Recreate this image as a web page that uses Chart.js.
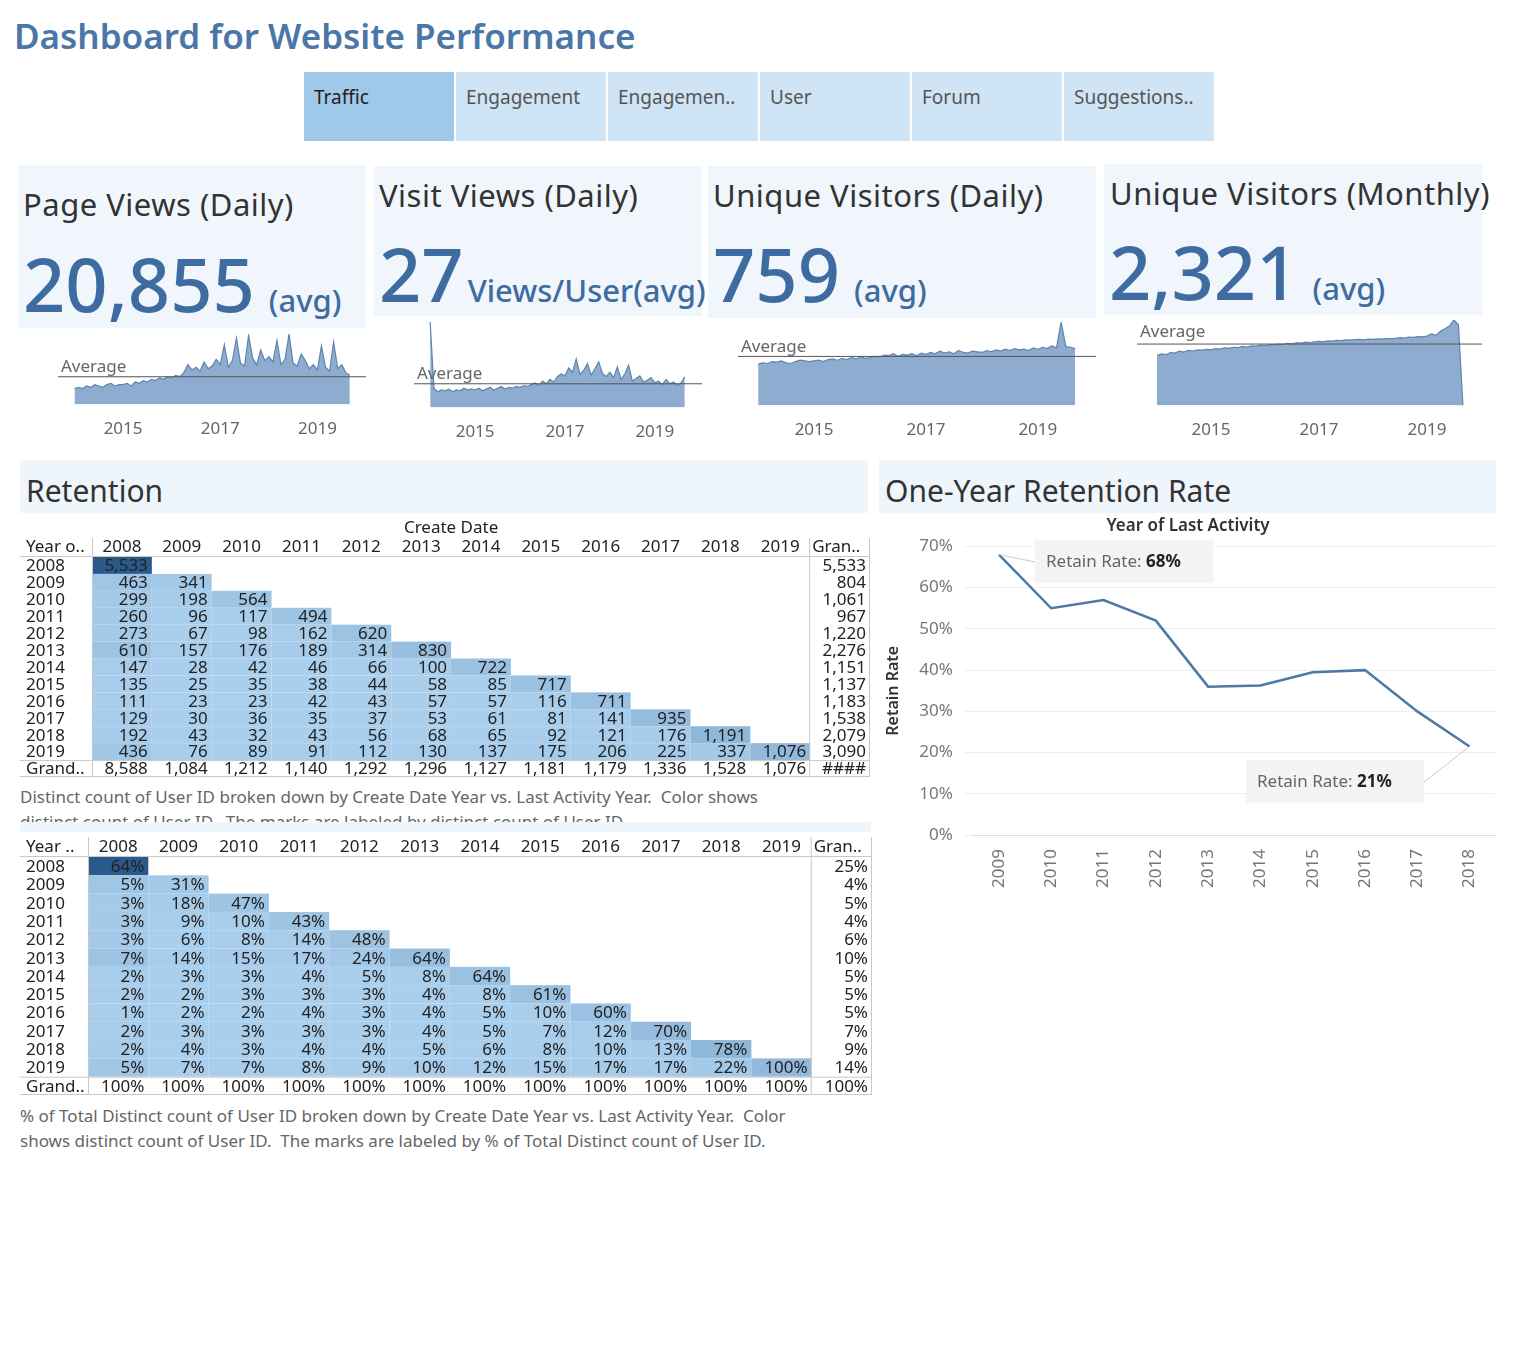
<!DOCTYPE html>
<html><head><meta charset="utf-8">
<script src="https://cdn.jsdelivr.net/npm/chart.js@4.4.1/dist/chart.umd.min.js"></script>
<style>
body{margin:0;width:1516px;height:1364px;background:#fff;font-family:"Noto Sans",sans-serif;position:relative;overflow:hidden}
.a{position:absolute}
.tab{position:absolute;top:72px;height:69px;width:150px;background:#cfe4f4;color:#555;font-size:19px;box-sizing:border-box;padding:12px 10px}
.kpi{position:absolute;background:#f0f6fb;color:#333}
.kt{position:absolute;font-size:31px;white-space:nowrap;letter-spacing:0.5px}
.kn{position:absolute;font-size:74px;color:#3e6ca0;white-space:nowrap;font-weight:500}
.ku{font-size:31px;margin-left:14px}
.hdr{position:absolute;background:#eef5fb;font-size:30px;color:#333;padding:10px 6px;box-sizing:border-box}
.cap{position:absolute;font-size:17px;color:#666;line-height:25px}
</style></head><body>
<div class="a" style="left:14px;top:12px;font-size:35px;font-weight:600;color:#4a76a8">Dashboard for Website Performance</div>
<div class="tab" style="left:304px;background:#a0c8e8;color:#222">Traffic</div>
<div class="tab" style="left:456px">Engagement</div>
<div class="tab" style="left:608px">Engagemen..</div>
<div class="tab" style="left:760px">User</div>
<div class="tab" style="left:912px">Forum</div>
<div class="tab" style="left:1064px">Suggestions..</div>

<div class="kpi" style="left:18px;top:165px;width:348px;height:163px"><div class="kt" style="left:5px;top:18px">Page Views (Daily)</div><div class="kn" style="left:5px;top:68px">20,855<span class="ku">(avg)</span></div></div>
<div class="kpi" style="left:374px;top:166px;width:328px;height:150px"><div class="kt" style="left:5px;top:8px">Visit Views (Daily)</div><div class="kn" style="left:5px;top:57px">27<span class="ku" style="margin-left:4px">Views/User(avg)</span></div></div>
<div class="kpi" style="left:708px;top:166px;width:388px;height:152px"><div class="kt" style="left:5px;top:8px">Unique Visitors (Daily)</div><div class="kn" style="left:5px;top:57px">759<span class="ku">(avg)</span></div></div>
<div class="kpi" style="left:1104px;top:164px;width:378px;height:151px"><div class="kt" style="left:6px;top:8px">Unique Visitors (Monthly)</div><div class="kn" style="left:5px;top:57px">2,321<span class="ku">(avg)</span></div></div>

<div class="a" style="left:58px;top:330px;width:308px;height:115px"><canvas id="s1"></canvas></div>
<div class="a" style="left:414px;top:318px;width:288px;height:130px"><canvas id="s2"></canvas></div>
<div class="a" style="left:738px;top:318px;width:358px;height:128px"><canvas id="s3"></canvas></div>
<div class="a" style="left:1137px;top:316px;width:345px;height:130px"><canvas id="s4"></canvas></div>

<div class="hdr" style="left:20px;top:460px;width:848px;height:53px">Retention</div>
<div class="hdr" style="left:879px;top:460px;width:617px;height:53px">One-Year Retention Rate</div>

<div class="a" style="left:20px;top:517px;width:850px;height:260px"><canvas id="t1"></canvas></div>
<div class="cap" style="left:20px;top:784px">Distinct count of User ID broken down by Create Date Year vs. Last Activity Year.&nbsp; Color shows<br>distinct count of User ID.&nbsp; The marks are labeled by distinct count of User ID.</div>
<div class="a" style="left:20px;top:822px;width:851px;height:10px;background:#eef5fb"></div>
<div class="a" style="left:20px;top:837px;width:852px;height:258px"><canvas id="t2"></canvas></div>
<div class="cap" style="left:20px;top:1103px">% of Total Distinct count of User ID broken down by Create Date Year vs. Last Activity Year.&nbsp; Color<br>shows distinct count of User ID.&nbsp; The marks are labeled by % of Total Distinct count of User ID.</div>

<div class="a" style="left:880px;top:514px;width:616px;height:380px"><canvas id="ln"></canvas></div>

<script>
const months = [];
for (let y = 2014; y <= 2019; y++) for (let m = 1; m <= 12; m++) if (!(y === 2019 && m > 9)) months.push(y + '-' + String(m).padStart(2, '0'));
const pageViews = [12,13,12,14,13,15,14,13,15,16,14,15, 15,16,14,17,16,18,17,19,18,20,19,21, 20,22,21,24,30,26,28,25,32,27,29,34, 30,45,28,33,50,31,29,52,35,30,41,33, 36,32,48,30,34,53,31,29,38,33,27,30, 26,44,28,25,47,27,30,24,22];
const visitViews = [97,22,18,20,19,21,18,20,19,22,20,21, 20,22,19,21,23,20,22,24,21,23,22,24, 23,25,24,26,28,25,30,27,32,29,35,38, 36,45,40,55,38,42,50,37,44,52,39,35, 40,34,46,32,38,48,30,33,36,29,31,34, 28,30,26,32,27,29,25,28,35];
const uniqDaily = [640,660,650,680,670,690,660,650,680,700,690,680, 690,700,680,710,720,700,730,710,740,720,750,730, 740,760,750,780,770,800,760,790,780,800,770,810, 790,820,800,840,810,830,800,850,820,810,840,830, 820,850,830,860,840,870,850,880,860,870,850,890, 870,900,880,920,890,1290,910,900,880];
const uniqMonthly = [1900,1950,1920,2000,1980,2050,2020,2080,2060,2100,2090,2120, 2100,2150,2130,2180,2160,2200,2190,2230,2210,2250,2240,2280, 2260,2300,2290,2320,2310,2350,2330,2370,2360,2390,2380,2400, 2420,2410,2440,2430,2460,2450,2480,2470,2490,2500,2480,2510, 2500,2520,2510,2530,2520,2540,2560,2550,2580,2570,2600,2590, 2620,2700,2650,2800,2900,3000,3228,3050,0];
const sparkTicks = [2015, 2017, 2019];
const avgs = [20.9, 27, 759, 2321];

const yearsCreate = ['2008','2009','2010','2011','2012','2013','2014','2015','2016','2017','2018','2019'];
const yearsLast = ['2008','2009','2010','2011','2012','2013','2014','2015','2016','2017','2018','2019'];
const counts = [
[5533],[463,341],[299,198,564],[260,96,117,494],[273,67,98,162,620],[610,157,176,189,314,830],
[147,28,42,46,66,100,722],[135,25,35,38,44,58,85,717],[111,23,23,42,43,57,57,116,711],
[129,30,36,35,37,53,61,81,141,935],[192,43,32,43,56,68,65,92,121,176,1191],
[436,76,89,91,112,130,137,175,206,225,337,1076]];
const rowTotals = ['5,533','804','1,061','967','1,220','2,276','1,151','1,137','1,183','1,538','2,079','3,090'];
const colTotals = ['8,588','1,084','1,212','1,140','1,292','1,296','1,127','1,181','1,179','1,336','1,528','1,076','####'];
const pcts = [
[64],[5,31],[3,18,47],[3,9,10,43],[3,6,8,14,48],[7,14,15,17,24,64],[2,3,3,4,5,8,64],[2,2,3,3,3,4,8,61],
[1,2,2,4,3,4,5,10,60],[2,3,3,3,3,4,5,7,12,70],[2,4,3,4,4,5,6,8,10,13,78],[5,7,7,8,9,10,12,15,17,17,22,100]];
const pctRowTotals = [25,4,5,4,6,10,5,5,5,7,9,14];
const pctColTotals = [100,100,100,100,100,100,100,100,100,100,100,100,100];

const retYears = ['2009','2010','2011','2012','2013','2014','2015','2016','2017','2018'];
const retRate = [68,55,57,52,36,36.3,39.5,40,30,21.5];

function toYear(s){const [y,m]=s.split('-').map(Number);return y+(m-1)/12;}

function spark(id, vals, avg, xmin, xmax, ymax, labelTop){
  const avgPlugin={id:'avg',afterDatasetsDraw(c){const {ctx,chartArea:a,scales:{y}}=c;const py=y.getPixelForValue(avg);
    ctx.save();ctx.strokeStyle='#555';ctx.lineWidth=1;ctx.beginPath();ctx.moveTo(a.left,py);ctx.lineTo(a.right,py);ctx.stroke();
    ctx.fillStyle='#666';ctx.font='17px "Noto Sans"';ctx.textBaseline='bottom';ctx.fillText('Average',a.left+3,labelTop?py-3:py-1);ctx.restore();}};
  new Chart(document.getElementById(id),{type:'line',
    data:{datasets:[{data:months.map((m,i)=>({x:toYear(m),y:vals[i]})),fill:'origin',backgroundColor:'#8eaccf',borderColor:'#5f84b0',borderWidth:1.2,pointRadius:0,tension:0}]},
    options:{responsive:true,maintainAspectRatio:false,animation:false,plugins:{legend:{display:false},tooltip:{enabled:false}},
      layout:{padding:{left:0,right:0,top:4}},
      scales:{x:{type:'linear',min:xmin,max:xmax,grid:{display:false},border:{display:false},
        afterBuildTicks(s){s.ticks=sparkTicks.map(v=>({value:v}));},
        ticks:{color:'#666',font:{size:17,family:'Noto Sans'},callback:v=>String(v),maxRotation:0,padding:6}},
        y:{display:false,min:0,max:ymax}}},
    plugins:[avgPlugin]});
}
spark('s1',pageViews,avgs[0],2013.66,2020.0,53,false);
spark('s2',visitViews,avgs[1],2013.64,2020.05,97,false);
spark('s3',uniqDaily,avgs[2],2013.64,2020.04,1290,false);
spark('s4',uniqMonthly,avgs[3],2013.63,2020.02,3228,true);

function mix(a,b,t){const p=h=>[1,3,5].map(i=>parseInt(h.substr(i,2),16));const A=p(a),B=p(b);
  return 'rgb('+A.map((v,i)=>Math.round(v+(B[i]-v)*t)).join(',')+')';}
function cellColor(c){return mix('#abd0ee','#2a5a8c',Math.min(1,Math.pow(c/5533,1.0)));}

function matrix(id, padL, padT, labels, rowTot, colTot, topLeft, createTitle){
  const cols=[...yearsCreate,'Gran..'], rows=[...yearsLast,'Grand..'];
  const plug={id:'mx',afterDraw(c){
    const {ctx,chartArea:a,scales:{x,y}}=c;const cw=a.width/cols.length, rh=a.height/rows.length;
    ctx.save();ctx.font='17px "Noto Sans"';ctx.textBaseline='middle';
    // cells
    counts.forEach((r,i)=>r.forEach((v,j)=>{const cx=x.getPixelForValue(j),cy=y.getPixelForValue(i);
      ctx.fillStyle=cellColor(v);ctx.fillRect(cx-cw/2,cy-rh/2,cw,rh);}));
    ctx.fillStyle='#222';ctx.textAlign='right';
    labels.forEach((r,i)=>r.forEach((v,j)=>{ctx.fillText(v,x.getPixelForValue(j)+cw/2-4,y.getPixelForValue(i)+1);}));
    rowTot.forEach((v,i)=>ctx.fillText(v,x.getPixelForValue(12)+cw/2-4,y.getPixelForValue(i)+1));
    colTot.forEach((v,j)=>ctx.fillText(v,x.getPixelForValue(j)+cw/2-4,y.getPixelForValue(12)+1));
    ctx.textAlign='left';
    rows.forEach((r,i)=>ctx.fillText(r,6,y.getPixelForValue(i)+1));
    const hy=a.top-rh/2-1;ctx.fillText(topLeft,6,hy);
    ctx.textAlign='center';
    cols.forEach((cc,j)=>{ if(j<12) ctx.fillText(cc,x.getPixelForValue(j),hy); else {ctx.textAlign='left';ctx.fillText(cc,a.right-cw+2,hy);} });
    if(createTitle){ctx.textAlign='center';ctx.fillText('Create Date',x.getPixelForValue(6)-cw/2,11);}
    ctx.strokeStyle='#c8c8c8';ctx.lineWidth=1;ctx.beginPath();
    const top=a.top-rh-2;
    ctx.moveTo(a.left+0.5,top);ctx.lineTo(a.left+0.5,a.bottom);
    ctx.moveTo(a.right-cw-0.5,top);ctx.lineTo(a.right-cw-0.5,a.bottom);
    ctx.moveTo(0,a.top-0.5);ctx.lineTo(a.right,a.top-0.5);
    ctx.moveTo(0,a.bottom-rh+0.5);ctx.lineTo(a.right,a.bottom-rh+0.5);
    ctx.moveTo(a.right-0.5,top);ctx.lineTo(a.right-0.5,a.bottom);
    ctx.moveTo(0,a.bottom-0.5);ctx.lineTo(a.right,a.bottom-0.5);
    ctx.stroke();ctx.restore();}};
  new Chart(document.getElementById(id),{type:'scatter',data:{datasets:[]},
    options:{responsive:true,maintainAspectRatio:false,animation:false,plugins:{legend:{display:false},tooltip:{enabled:false}},
      layout:{padding:{left:padL,top:padT,right:0,bottom:0}},
      scales:{x:{type:'category',labels:cols,offset:true,display:false},y:{type:'category',labels:rows,offset:true,display:false}}},
    plugins:[plug]});
}
matrix('t1',72,40,counts.map(r=>r.map(v=>v.toLocaleString('en-US'))),rowTotals,colTotals,'Year o..',true);
matrix('t2',68,20,pcts.map(r=>r.map(v=>v+'%')),pctRowTotals.map(v=>v+'%'),pctColTotals.map(v=>v+'%'),'Year ..',false);

const annot={id:'annot',afterDatasetsDraw(c){const {ctx}=c;const pts=c.getDatasetMeta(0).data;
  const ox=c.canvas.getBoundingClientRect().left, oy=c.canvas.getBoundingClientRect().top;
  function box(p,bx,by,txt,cx,cy){bx-=880;by-=514;ctx.save();ctx.strokeStyle='#ccc';ctx.lineWidth=1;ctx.beginPath();ctx.moveTo(p.x,p.y);ctx.lineTo(cx-880,cy-514);ctx.stroke();
    ctx.fillStyle='#f4f4f4';ctx.fillRect(bx,by,178,43);ctx.font='17px "Noto Sans"';ctx.textBaseline='middle';
    ctx.fillStyle='#666';ctx.fillText('Retain Rate: ',bx+11,by+22);const w=ctx.measureText('Retain Rate: ').width;
    ctx.fillStyle='#222';ctx.font='bold 17px "Noto Sans"';ctx.fillText(txt,bx+11+w,by+22);ctx.restore();}
  box(pts[0],1035,540,'68%',1035,562);
  box(pts[9],1246,760,'21%',1424,782);}};
new Chart(document.getElementById('ln'),{type:'line',
  data:{labels:retYears,datasets:[{data:retRate,borderColor:'#4e79a7',borderWidth:2.5,pointRadius:0,tension:0,fill:false}]},
  options:{responsive:true,maintainAspectRatio:false,animation:false,
    plugins:{legend:{display:false},tooltip:{enabled:false},title:{display:true,text:'Year of Last Activity',color:'#333',font:{size:17,weight:'600',family:'Noto Sans'},padding:{top:2,bottom:10}}},
    layout:{padding:{right:0,left:0}},
    scales:{x:{offset:true,grid:{display:false},border:{color:'#ddd'},ticks:{color:'#777',font:{size:17,family:'Noto Sans'},minRotation:90,maxRotation:90,padding:6}},
      y:{min:0,max:70,border:{display:false},grid:{color:'#eee'},title:{display:true,text:'Retain Rate',color:'#333',font:{size:16,weight:'600',family:'Noto Sans'}},
        ticks:{stepSize:10,color:'#777',font:{size:17,family:'Noto Sans'},callback:v=>v+'%',padding:12}}}},
  plugins:[annot]});
</script>
</body></html>
